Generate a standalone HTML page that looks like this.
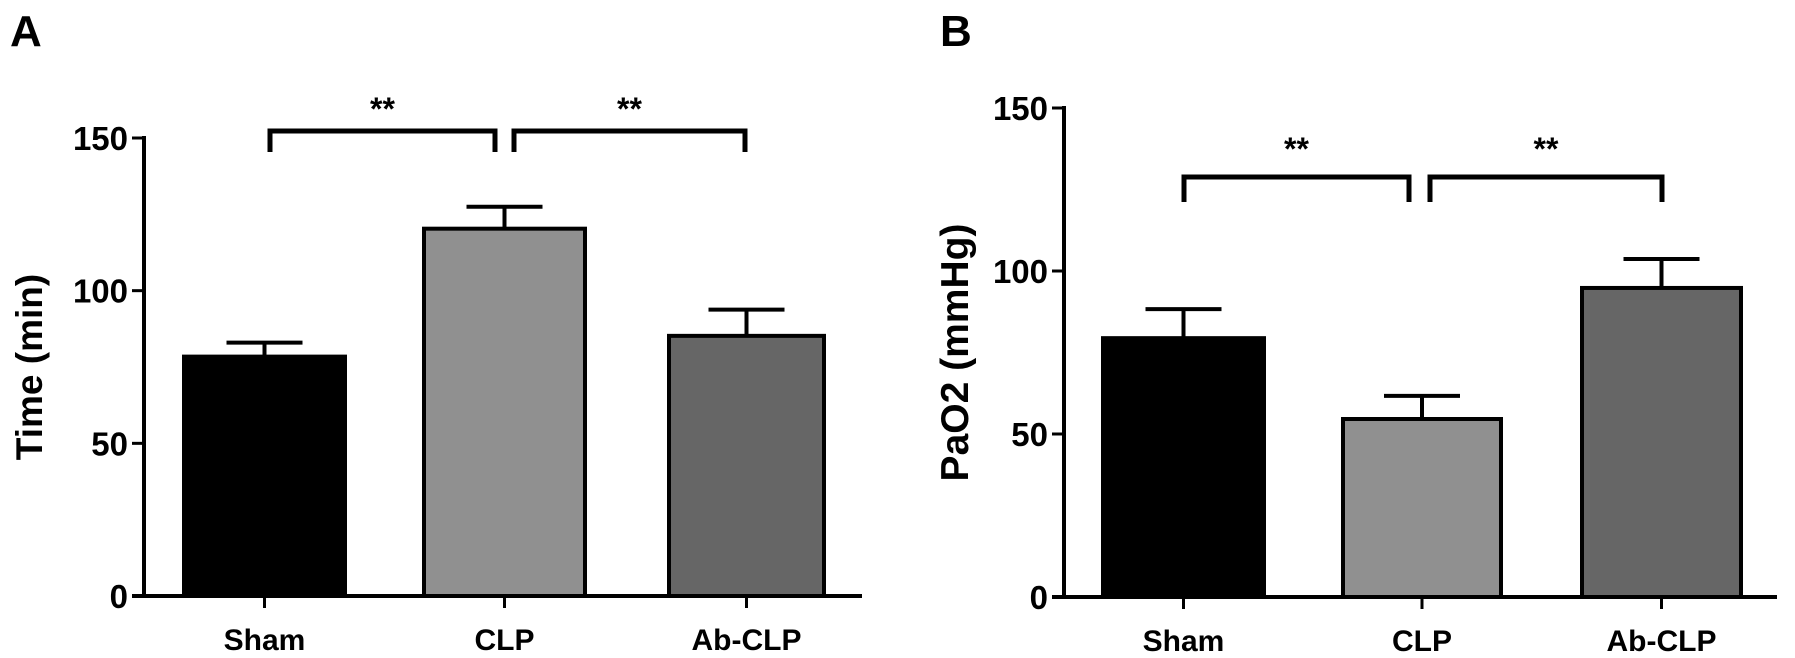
<!DOCTYPE html>
<html><head><meta charset="utf-8"><style>
html,body{margin:0;padding:0;background:#fff;}
svg{display:block;font-family:"Liberation Sans",Arial,sans-serif;font-weight:bold;}
</style></head><body>
<svg id="fig" width="1795" height="658" viewBox="0 0 1795 658"></svg>
<script>
const categories = ["Sham", "CLP", "Ab-CLP"];
const timeMeans = [78.4, 120.3, 85.2];
const timeErrors = [4.6, 7.2, 8.6];
const pao2Means = [79.4, 54.6, 94.8];
const pao2Errors = [8.9, 7.1, 8.9];
const yTicks = [0, 50, 100, 150];
const barColors = ["#000000", "#909090", "#666666"];
const sigLabels = ["**", "**"];

const NS = "http://www.w3.org/2000/svg";
const svg = document.getElementById("fig");
function mk(tag, attrs, parent) {
  const e = document.createElementNS(NS, tag);
  for (const k in attrs) e.setAttribute(k, attrs[k]);
  (parent || svg).appendChild(e);
  return e;
}

function panel(p) {
  const g = mk("g", {});
  
  
  const y = v => p.y0 - (v / 150) * (p.y0 - p.y150);
  const L = mk("text", {x: p.letterX, y: 46, "font-size": 44}, g);
  L.textContent = p.letter;
  
  
  p.means.forEach((m, i) => {
    const x0 = p.barL[i], x1 = p.barR[i], cx = (x0 + x1) / 2;
    const top = y(m), et = y(m + p.errs[i]);
    const el = mk("line", {x1: cx, x2: cx, y1: top, y2: et, stroke: "#000", "stroke-width": 4}, g);
    
    
    const cap = mk("line", {x1: cx - 38, x2: cx + 38, y1: et, y2: et, stroke: "#000", "stroke-width": 4}, g);
    
    
    const r = mk("rect", {x: x0 + 2, y: top, width: x1 - x0 - 4, height: p.y0 - top, fill: barColors[i], stroke: "#000", "stroke-width": 4}, g);
    
    
    const t = mk("line", {x1: cx, x2: cx, y1: p.y0, y2: p.y0 + 12, stroke: "#000", "stroke-width": 3}, g);
    
    
    const lb = mk("text", {x: cx, y: p.y0 + 54, "font-size": 30, "text-anchor": "middle"}, g);
    lb.textContent = categories[i];
    
    
  });
  const ya = mk("line", {x1: p.ax, x2: p.ax, y1: p.y150 - 2, y2: p.y0 + 2, stroke: "#000", "stroke-width": 4}, g);
  
  
  const xa = mk("line", {x1: p.ax - 12, x2: p.xEnd, y1: p.y0, y2: p.y0, stroke: "#000", "stroke-width": 4}, g);
  
  
  yTicks.forEach(v => {
    const tk = mk("line", {x1: p.ax - 12, x2: p.ax, y1: y(v), y2: y(v), stroke: "#000", "stroke-width": 3}, g);
    
    
    const tl = mk("text", {x: p.ax - 16, y: y(v) + 12, "font-size": 33, "text-anchor": "end"}, g);
    tl.textContent = v;
    
    
  });
  const cy = (p.y0 + p.y150) / 2;
  const yt = mk("text", {x: 0, y: 0, "font-size": p.titleSize, "text-anchor": "middle", transform: `translate(${p.titleX},${cy}) rotate(-90)`}, g);
  yt.textContent = p.title;
  
  
  p.brackets.forEach((b, i) => {
    const pl = mk("polyline", {points: `${b[0]},${p.bB} ${b[0]},${p.bT} ${b[1]},${p.bT} ${b[1]},${p.bB}`, fill: "none", stroke: "#000", "stroke-width": 5}, g);
    
    
    const st = mk("text", {x: (b[0] + b[1]) / 2, y: p.starY, "font-size": 32, "text-anchor": "middle"}, g);
    st.textContent = sigLabels[i];
    
    
  });
}

panel({name: "panel-a", letter: "A", letterX: 10, ax: 144, y0: 596, y150: 138, xEnd: 862,
  barL: [182, 422, 667], barR: [347, 587, 826], means: timeMeans, errs: timeErrors,
  title: "Time (min)", titleSize: 37, titleX: 42, brackets: [[270, 495], [514, 745]], bT: 131, bB: 152, starY: 120});
panel({name: "panel-b", letter: "B", letterX: 940, ax: 1064, y0: 597, y150: 108, xEnd: 1777,
  barL: [1101, 1341, 1580], barR: [1266, 1503, 1743], means: pao2Means, errs: pao2Errors,
  title: "PaO2 (mmHg)", titleSize: 39, titleX: 968, brackets: [[1184, 1409], [1430, 1662]], bT: 177, bB: 202, starY: 160});
</script>
</body></html>
